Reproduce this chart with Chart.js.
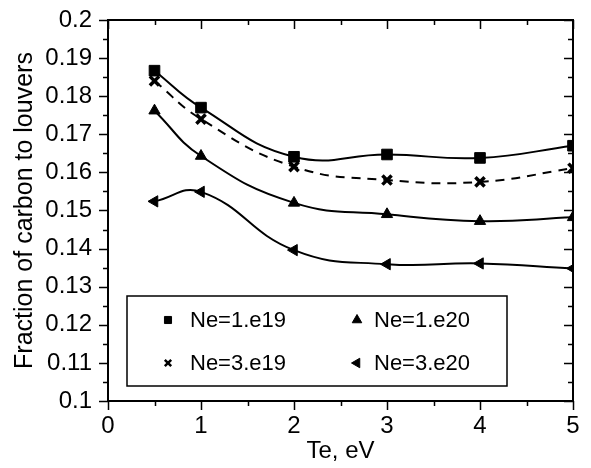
<!DOCTYPE html>
<html>
<head>
<meta charset="utf-8">
<script src="https://cdn.jsdelivr.net/npm/chart.js@4.4.1/dist/chart.umd.min.js"></script>
<style>
  html, body { margin: 0; padding: 0; background: #fff; }
  canvas { display: block; }
</style>
</head>
<body>
<canvas id="grafico" width="591" height="468"></canvas>
<script>
// Te em eV (eixo x) e fração de carbono para cada densidade
const teValues = [0.5, 1, 2, 3, 4, 5];
const ne1e19 = [0.1867, 0.1770, 0.1641, 0.1647, 0.1638, 0.1670];
const ne3e19 = [0.1840, 0.1740, 0.1615, 0.1580, 0.1575, 0.1611];
const ne1e20 = [0.1762, 0.1643, 0.1520, 0.1490, 0.1472, 0.1482];
const ne3e20 = [0.1524, 0.1549, 0.1396, 0.1359, 0.1361, 0.1348];

const seriesNames = ["Ne=1.e19", "Ne=3.e19", "Ne=1.e20", "Ne=3.e20"];

// rótulos dos eixos
const xTicks = [0, 1, 2, 3, 4, 5];
const yTicks = [0.1, 0.11, 0.12, 0.13, 0.14, 0.15, 0.16, 0.17, 0.18, 0.19, 0.2];

const FONTE = "'Liberation Sans', Arial, Helvetica, sans-serif";

function pontos(valores) {
    return teValues.map((x, i) => ({ x: x, y: valores[i] }));
}

function serie(nome, valores, estilo) {
    return Object.assign({
        label: nome,
        data: pontos(valores),
        borderColor: "#000",
        backgroundColor: "#000",
        pointBackgroundColor: "#000",
        pointBorderColor: "#000",
        borderWidth: 2,
        pointBorderWidth: 1,
        tension: 0.45,
        fill: false
    }, estilo);
}

// marcas de escala (maiores e menores) nos quatro lados + moldura
const molduraPlugin = {
    id: "moldura",
    afterDraw(chart) {
        const { ctx, chartArea: a, scales } = chart;
        ctx.save();
        ctx.strokeStyle = "#000";
        ctx.lineWidth = 1.5;
        ctx.beginPath();
        for (let v = 0; v <= 5.0001; v += 0.5) {
            const px = Math.round(scales.x.getPixelForValue(v)) + 0.5;
            const len = Math.abs(v - Math.round(v)) < 1e-6 ? 9 : 5;
            ctx.moveTo(px, a.bottom); ctx.lineTo(px, a.bottom + len);
            ctx.moveTo(px, a.top); ctx.lineTo(px, a.top + len);
        }
        for (let i = 0; i <= 20; i++) {
            const py = Math.round(scales.y.getPixelForValue(0.1 + i * 0.005)) + 0.5;
            const len = i % 2 === 0 ? 9 : 5;
            ctx.moveTo(a.left - len, py); ctx.lineTo(a.left, py);
            ctx.moveTo(a.right - len, py); ctx.lineTo(a.right, py);
        }
        ctx.stroke();
        ctx.lineWidth = 2;
        ctx.strokeRect(a.left, a.top, a.right - a.left, a.bottom - a.top);
        ctx.restore();
    }
};

// legenda em caixa 2x2 dentro da área do gráfico
const legendaPlugin = {
    id: "legendaCaixa",
    afterDraw(chart) {
        const ctx = chart.ctx;
        const caixa = { x: 127, y: 296, w: 380, h: 90 };
        ctx.save();
        ctx.fillStyle = "#fff";
        ctx.fillRect(caixa.x, caixa.y, caixa.w, caixa.h);
        ctx.strokeStyle = "#000";
        ctx.lineWidth = 1.5;
        ctx.strokeRect(caixa.x, caixa.y, caixa.w, caixa.h);

        const posicoes = [
            { mx: 168, tx: 190, y: 320 },
            { mx: 168, tx: 190, y: 363 },
            { mx: 357, tx: 374, y: 320 },
            { mx: 357, tx: 374, y: 363 }
        ];
        const marcadores = [
            { pointStyle: "rect", radius: 5, borderWidth: 1, rotation: 0 },
            { pointStyle: "crossRot", radius: 4.5, borderWidth: 2.5, rotation: 0 },
            { pointStyle: "triangle", radius: 5.5, borderWidth: 1, rotation: 0 },
            { pointStyle: "triangle", radius: 5.5, borderWidth: 1, rotation: -90 }
        ];
        ctx.font = "22px " + FONTE;
        ctx.textBaseline = "middle";
        ctx.textAlign = "left";
        seriesNames.forEach((nome, i) => {
            const p = posicoes[i];
            ctx.fillStyle = "#000";
            ctx.strokeStyle = "#000";
            ctx.lineWidth = marcadores[i].borderWidth;
            Chart.helpers.drawPoint(ctx, marcadores[i], p.mx, p.y);
            ctx.fillStyle = "#000";
            ctx.fillText(nome, p.tx, p.y + 1);
        });
        ctx.restore();
    }
};

const ctx = document.getElementById("grafico");

new Chart(ctx, {
    type: "line",
    data: {
        datasets: [
            serie(seriesNames[0], ne1e19, { pointStyle: "rect", pointRadius: 7.5 }),
            serie(seriesNames[1], ne3e19, { pointStyle: "crossRot", pointRadius: 6.5, pointBorderWidth: 3.5, borderDash: [9, 7] }),
            serie(seriesNames[2], ne1e20, { pointStyle: "triangle", pointRadius: 6.5 }),
            serie(seriesNames[3], ne3e20, { pointStyle: "triangle", pointRadius: 6.5, pointRotation: -90 })
        ]
    },
    options: {
        responsive: false,
        animation: false,
        devicePixelRatio: 1,
        layout: { padding: { top: 20, right: 18, left: 0, bottom: 0 } },
        plugins: {
            legend: { display: false },
            tooltip: { enabled: false }
        },
        scales: {
            x: {
                type: "linear",
                position: "bottom",
                min: 0,
                max: 5,
                afterBuildTicks: (s) => { s.ticks = xTicks.map(v => ({ value: v })); },
                afterFit: (s) => { s.height = 67; s.paddingLeft = 0; s.paddingRight = 0; },
                grid: { display: false, drawTicks: false },
                border: { display: false },
                ticks: {
                    color: "#000",
                    padding: 11,
                    font: { family: FONTE, size: 24 },
                    maxRotation: 0
                },
                title: {
                    display: true,
                    text: "Te, eV",
                    color: "#000",
                    font: { family: FONTE, size: 24 },
                    padding: { top: 0, bottom: 2 }
                }
            },
            y: {
                type: "linear",
                min: 0.1,
                max: 0.2,
                afterBuildTicks: (s) => { s.ticks = yTicks.map(v => ({ value: v })); },
                afterFit: (s) => { s.width = 108; s.paddingTop = 0; s.paddingBottom = 0; },
                grid: { display: false, drawTicks: false },
                border: { display: false },
                ticks: {
                    color: "#000",
                    padding: 16,
                    font: { family: FONTE, size: 24 },
                    callback: (v) => String(Number(v.toFixed(3)))
                },
                title: {
                    display: true,
                    text: "Fraction of carbon to louvers",
                    color: "#000",
                    font: { family: FONTE, size: 25 },
                    padding: { top: 10, bottom: 0 }
                }
            }
        }
    },
    plugins: [molduraPlugin, legendaPlugin]
});
</script>
</body>
</html>
